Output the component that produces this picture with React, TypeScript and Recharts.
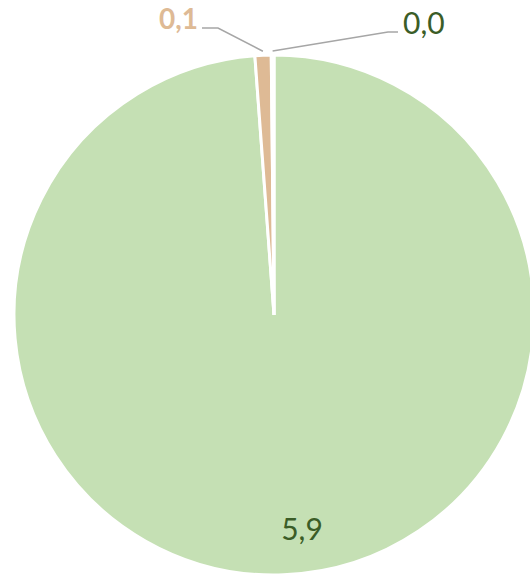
import React from "react";
import { PieChart, Pie, Cell } from "recharts";

const categories = ["A", "B", "C"];
const values = [5.9, 0.06, 0.01];
const labels = ["5,9", "0,1", "0,0"];
const colors = ["#c5e0b4", "#deba95", "#375623"];
const labelColors = ["#3b5d27", "#deba95", "#3b5d27"];

const data = categories.map((c, i) => ({ name: c, value: values[i] }));

const FONT = "Lato, 'Noto Sans', sans-serif";

const renderLabel = (p: any) => {
  const { cx, cy, midAngle, outerRadius, index } = p;
  const RAD = Math.PI / 180;
  const ex = cx + (outerRadius + 4) * Math.cos(-midAngle * RAD);
  const ey = cy + (outerRadius + 4) * Math.sin(-midAngle * RAD);
  if (index === 0) {
    return (
      <text x={cx + 28} y={cy + 213} textAnchor="middle" dominantBaseline="central"
        fill={labelColors[0]} fontSize={30} fontFamily={FONT}>{labels[0]}</text>
    );
  }
  if (index === 1) {
    return (
      <g>
        <polyline points={`${ex},${ey} ${cx - 56},${cy - 287} ${cx - 72},${cy - 287}`}
          fill="none" stroke="#a6a6a6" strokeWidth={1.5} />
        <text x={cx - 76} y={cy - 297} textAnchor="end" dominantBaseline="central"
          fill={labelColors[1]} fontSize={28} fontWeight={700} fontFamily={FONT}>{labels[1]}</text>
      </g>
    );
  }
  return (
    <g>
      <polyline points={`${ex},${ey} ${cx + 114},${cy - 283} ${cx + 124},${cy - 283}`}
        fill="none" stroke="#a6a6a6" strokeWidth={1.5} />
      <text x={cx + 129} y={cy - 293} textAnchor="start" dominantBaseline="central"
        fill={labelColors[2]} fontSize={30} fontFamily={FONT}>{labels[2]}</text>
    </g>
  );
};

export default function App() {
  return (
    <div style={{ width: 530, height: 577, background: "#fff" }}>
      <style>{`body{margin:0}`}</style>
      <PieChart width={530} height={577} margin={{ top: 0, right: 0, bottom: 0, left: 0 }}>
        <Pie
          data={data}
          dataKey="value"
          cx={274}
          cy={315}
          outerRadius={260}
          startAngle={90}
          endAngle={-270}
          stroke="#ffffff"
          strokeWidth={3}
          label={renderLabel}
          labelLine={false}
          isAnimationActive={false}
        >
          {data.map((d, i) => (
            <Cell key={d.name} fill={colors[i]} />
          ))}
        </Pie>
      </PieChart>
    </div>
  );
}
